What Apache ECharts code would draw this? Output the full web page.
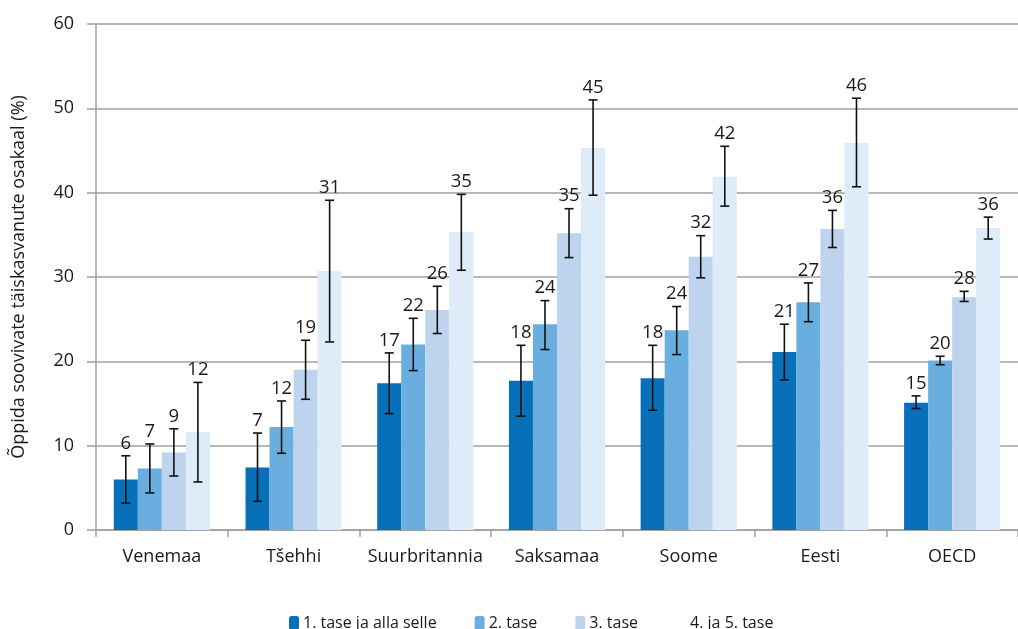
<!DOCTYPE html>
<html>
<head>
<meta charset="utf-8">
<script src="https://cdn.jsdelivr.net/npm/echarts@6/dist/echarts.min.js"></script>
<style>
html,body{margin:0;padding:0;background:#fff;}
#chart{width:1018px;height:629px;}
</style>
</head>
<body>
<div id="chart"></div>
<script>
var categories = ['Venemaa','Tšehhi','Suurbritannia','Saksamaa','Soome','Eesti','OECD'];
var seriesNames = ['1. tase ja alla selle','2. tase','3. tase','4. ja 5. tase'];
var yTicks = [0,10,20,30,40,50,60];

var s1   = [6.0, 7.4, 17.4, 17.7, 18.0, 21.1, 15.1];
var s1Lo = [3.2, 3.4, 13.8, 13.5, 14.2, 17.8, 14.4];
var s1Hi = [8.8, 11.5, 21.0, 21.9, 21.9, 24.4, 15.9];

var s2   = [7.3, 12.2, 22.0, 24.4, 23.7, 27.0, 20.1];
var s2Lo = [4.4, 9.1, 18.9, 21.4, 20.8, 24.7, 19.6];
var s2Hi = [10.2, 15.3, 25.1, 27.2, 26.5, 29.3, 20.6];

var s3   = [9.2, 19.0, 26.1, 35.2, 32.4, 35.7, 27.6];
var s3Lo = [6.4, 15.5, 23.3, 32.3, 29.9, 33.5, 27.1];
var s3Hi = [12.0, 22.5, 28.9, 38.1, 34.9, 37.9, 28.3];

var s4   = [11.6, 30.7, 35.3, 45.3, 41.9, 45.9, 35.8];
var s4Lo = [5.7, 22.3, 30.8, 39.7, 38.4, 40.7, 34.5];
var s4Hi = [17.5, 39.1, 39.8, 51.0, 45.5, 51.2, 37.1];

var labels1 = [6, 7, 17, 18, 18, 21, 15];
var labels2 = [7, 12, 22, 24, 24, 27, 20];
var labels3 = [9, 19, 26, 35, 32, 36, 28];
var labels4 = [12, 31, 35, 45, 42, 46, 36];

var colors = ['#0870b8', '#6aaee0', '#bed4ee', '#deebf8'];
var FONT = '"Open Sans", sans-serif';

var values = [s1, s2, s3, s4];
var lows = [s1Lo, s2Lo, s3Lo, s4Lo];
var highs = [s1Hi, s2Hi, s3Hi, s4Hi];
var labs = [labels1, labels2, labels3, labels4];
var GROUP = 0.73;

var series = [];
values.forEach(function (vals, i) {
  series.push({
    name: seriesNames[i],
    type: 'bar',
    data: vals,
    barGap: '0%',
    barCategoryGap: '27%',
    itemStyle: { color: colors[i] },
    z: 2
  });
});

values.forEach(function (vals, i) {
  var d = categories.map(function (c, k) { return [k, lows[i][k], highs[i][k], labs[i][k]]; });
  series.push({
    type: 'custom',
    name: 'err' + i,
    data: d,
    z: 5,
    silent: true,
    encode: { x: 0, y: [1, 2] },
    renderItem: function (params, api) {
      var k = api.value(0);
      var lo = api.coord([k, api.value(1)]);
      var hi = api.coord([k, api.value(2)]);
      var band = api.size([1, 0])[0];
      var bw = band * GROUP / 4;
      var x = lo[0] + (i - 1.5) * bw;
      var cap = 4.5;
      var st = { stroke: '#111', lineWidth: 1.6 };
      return {
        type: 'group',
        children: [
          { type: 'line', shape: { x1: x, y1: hi[1], x2: x, y2: lo[1] }, style: st },
          { type: 'line', shape: { x1: x - cap, y1: hi[1], x2: x + cap, y2: hi[1] }, style: st },
          { type: 'line', shape: { x1: x - cap, y1: lo[1], x2: x + cap, y2: lo[1] }, style: st },
          { type: 'text', style: { x: x, y: hi[1] - 3, text: String(api.value(3)), textAlign: 'center', textVerticalAlign: 'bottom', fill: '#1a1a1a', font: '18.5px ' + FONT } }
        ]
      };
    }
  });
});

var chart = echarts.init(document.getElementById('chart'));
chart.setOption({
  animation: false,
  backgroundColor: '#fff',
  grid: { left: 96, right: 0, top: 24, bottom: 99, containLabel: false },
  legend: {
    data: [
      { name: seriesNames[0] },
      { name: seriesNames[1] },
      { name: seriesNames[2] },
      { name: seriesNames[3], itemStyle: { opacity: 0 } }
    ],
    left: 284,
    top: 610,
    itemWidth: 10,
    itemHeight: 14,
    itemGap: 38,
    textStyle: { fontFamily: FONT, fontSize: 16, color: '#1a1a1a', padding: [0, 0, 0, -1] }
  },
  xAxis: {
    type: 'category',
    data: categories,
    axisLine: { lineStyle: { color: '#a0a0a0', width: 1.5 } },
    axisTick: { show: true, interval: 0, length: 7, lineStyle: { color: '#a0a0a0', width: 1.5 } },
    axisLabel: { interval: 0, fontFamily: FONT, fontSize: 18, color: '#1a1a1a', margin: 18 }
  },
  yAxis: {
    type: 'value',
    min: yTicks[0],
    max: yTicks[yTicks.length - 1],
    interval: 10,
    name: 'Õppida soovivate täiskasvanute osakaal (%)',
    nameLocation: 'middle',
    nameGap: 68,
    nameTextStyle: { fontFamily: FONT, fontSize: 18, color: '#1a1a1a' },
    axisLine: { show: true, lineStyle: { color: '#a0a0a0', width: 1.5 } },
    axisTick: { show: true, length: 9, lineStyle: { color: '#a0a0a0', width: 1.5 } },
    axisLabel: { fontFamily: FONT, fontSize: 18, color: '#1a1a1a', margin: 22 },
    splitLine: { lineStyle: { color: '#a0a0a0', width: 1.5 } }
  },
  series: series
});
</script>
</body>
</html>
